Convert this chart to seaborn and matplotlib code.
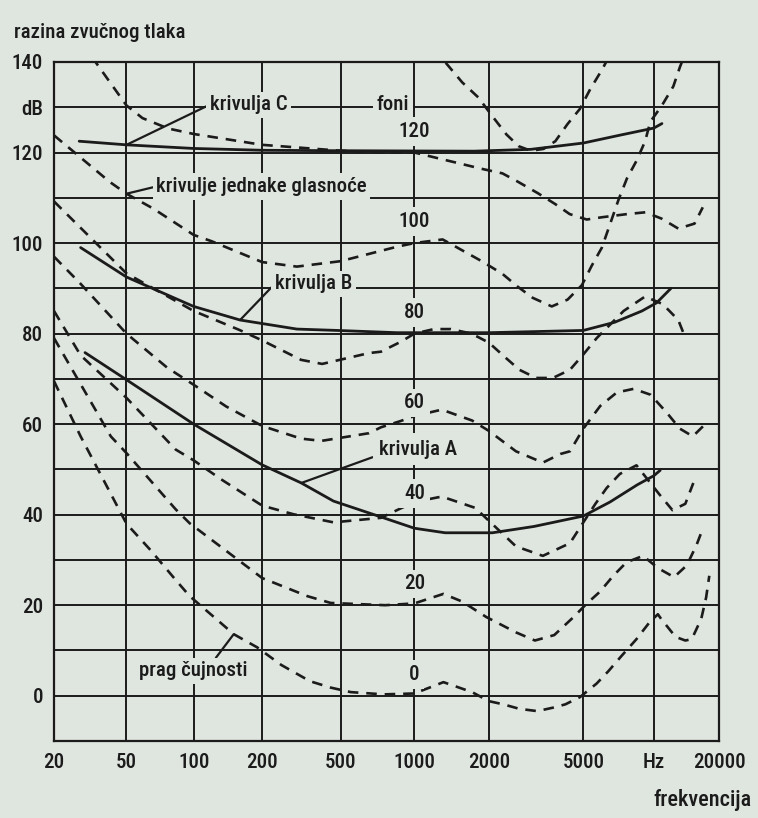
import numpy as np
import pandas as pd
import matplotlib
matplotlib.use("Agg")
import matplotlib.pyplot as plt
import seaborn as sns

# ---------------- data ----------------
x_ticks = [20, 50, 100, 200, 500, 1000, 2000, 5000, 10000, 20000]
x_labels = ["20", "50", "100", "200", "500", "1000", "2000", "5000", "Hz", "20000"]
y_ticks = [0, 10, 20, 30, 40, 50, 60, 70, 80, 90, 100, 110, 120, 130, 140]
y_labels = ["0", "", "20", "", "40", "", "60", "", "80", "", "100", "", "120", "dB", "140"]

# equal-loudness contours (dashed), frequency [Hz] / level [dB]
p0_f = [20, 28, 50, 64, 83, 96, 126, 150, 190, 250, 350, 445, 550, 750, 1000, 1310, 1710,
        2000, 2300, 2690, 3200, 3750, 4200, 4840, 5700, 6390, 7280, 8430, 9610, 10440,
        10800, 12600, 13980, 14970, 16560, 17440, 18040]
p0_db = [69.5, 57.3, 38, 32.2, 25.6, 22, 16.9, 13.6, 10.7, 6.8, 3.2, 1.8, 0.8, 0.3, 0.5, 3.0, 0.8,
         -1.2, -1.9, -2.9, -3.4, -2.6, -1.9, -0.3, 2.7, 5.4, 8.8, 12.5, 16.3, 18,
         17, 13, 12.2, 12.5, 17, 21.7, 26.5]

p20_f = [20, 41, 50, 83, 96, 200, 339, 445, 760, 1000, 1310, 1560, 1950, 2600, 3125, 3770,
         4530, 5160, 5890, 6710, 7650, 9000, 10440, 12400, 14200, 15750, 16860]
p20_db = [79, 57.3, 53.6, 41.2, 38.1, 26, 22, 20.5, 20, 20.4, 22.5, 20.8, 17.4, 14, 12.2, 13.4,
          17.3, 20.3, 23, 26.5, 29.5, 30.9, 28.2, 26.2, 28.8, 33.3, 37]

p40_f = [20, 28, 50, 83, 100, 134, 200, 288, 460, 730, 880, 1000, 1290, 1760, 2070, 2600,
         3375, 4390, 5000, 5630, 6290, 7160, 8430, 10600, 12190, 13980, 15220]
p40_db = [85, 75.2, 65.8, 54.4, 52, 47.6, 42, 40.1, 38.3, 39.3, 41.4, 42.8, 44, 41.5, 37.9, 33,
          30.9, 33.7, 38.3, 42.4, 45.9, 49, 50.9, 44.5, 41, 42.4, 47]

p60_f = [20, 27.7, 50, 76, 100, 139, 200, 315, 400, 653, 730, 880, 1000, 1290, 1710, 2000,
         2600, 3375, 4000, 4390, 5000, 5900, 6950, 8200, 9680, 11490, 13190, 15140, 17700]
p60_db = [97, 91.2, 80, 72.5, 68.7, 63.9, 59.6, 56.8, 56.3, 58, 59.3, 60.7, 61.8, 63.2, 60.8, 58.5,
          54, 51.5, 53.4, 54, 59, 64, 67, 67.8, 66.5, 62.5, 59, 57.3, 60.5]

p80_f = [20, 50, 100, 159, 200, 315, 403, 653, 730, 880, 1000, 1200, 1400, 1700, 2000, 2360,
         2690, 3160, 3720, 4390, 5000, 5700, 6510, 7430, 9180, 11000, 12970, 14000]
p80_db = [109.2, 93.3, 85, 80.8, 78.5, 74.2, 73.3, 75.7, 76, 78.2, 80, 81, 81, 80, 78, 74.6,
          72, 70.2, 70.2, 72, 75.4, 79, 82, 85, 88.2, 86.5, 83, 79]

p100_f = [20, 40.5, 50, 66, 100, 120, 200, 300, 500, 850, 1000, 1300, 1870, 2280, 2640, 3060,
          3680, 4290, 4930, 5430, 6000, 7070, 7680, 8440, 9180, 9660, 10900, 12300, 13200, 14000]
p100_db = [123.8, 113.5, 110.9, 107.6, 101.8, 100.4, 95.8, 94.8, 96, 99.2, 100, 100.8, 96, 93.2,
           90.4, 87.9, 86, 87.5, 90.7, 95, 99, 109.6, 114.3, 118.2, 122.5, 126.8, 130.4, 134.6,
           138.9, 142]

p120_f = [32, 33.8, 50, 59, 67, 77, 100, 200, 500, 750, 1000, 1870, 2280, 2640, 3220, 3810,
          4380, 5170, 6000, 7680, 9210, 10860, 12970, 15420, 16830]
p120_db = [141, 140, 130.4, 127.6, 126.5, 125.3, 124.1, 121.7, 120.4, 120, 120, 116.4, 115.4,
           113.6, 111, 108.6, 106.4, 105.2, 105.7, 106.4, 106.8, 105.4, 103.2, 104.3, 107.9]

p140_f = [1200, 1330, 1560, 1810, 2070, 2370, 2670, 3000, 3400, 3810, 4290, 4830, 5350, 6040, 6400]
p140_db = [143, 140, 135.5, 132.2, 128, 124, 121.4, 120.4, 120.8, 122.5, 126.3, 129.6, 134, 138.5, 141]

# weighting curves (solid)
a_f = [29.6, 50, 100, 200, 316, 460, 758, 1000, 1330, 2070, 3100, 5000, 6500, 8500, 10000, 10700]
a_db = [75.8, 69.8, 60, 51, 47, 43, 39.2, 37, 36, 36, 37.4, 39.7, 42.8, 46.6, 48.6, 49.8]

b_f = [28, 50, 100, 160, 300, 480, 850, 2000, 5000, 6800, 8900, 10300, 12000]
b_db = [99, 92.5, 86, 83, 81, 80.7, 80.2, 80.2, 80.7, 82.5, 85, 86.8, 90]

c_f = [27.5, 50, 100, 200, 500, 1740, 3000, 5000, 7260, 10000, 10900]
c_db = [122.5, 121.7, 120.9, 120.5, 120.4, 120.3, 120.7, 122.1, 123.9, 125.4, 126.4]

phon_levels = [0, 20, 40, 60, 80, 100, 120]

# ---------------- layout / style ----------------
# position of each frequency grid line across the axes (as printed in the chart)
grid_pos = np.array([0.0, 0.109, 0.210, 0.313, 0.431, 0.542, 0.654, 0.796, 0.902, 1.0])
log_t = np.log10(np.array(x_ticks, dtype=float))


def fwd(f):
    lf = np.log10(np.clip(np.asarray(f, dtype=float), 1e-9, None))
    out = np.interp(lf, log_t, grid_pos)
    s0 = (grid_pos[1] - grid_pos[0]) / (log_t[1] - log_t[0])
    s1 = (grid_pos[-1] - grid_pos[-2]) / (log_t[-1] - log_t[-2])
    out = np.where(lf < log_t[0], grid_pos[0] + (lf - log_t[0]) * s0, out)
    out = np.where(lf > log_t[-1], grid_pos[-1] + (lf - log_t[-1]) * s1, out)
    return out


def inv(u):
    u = np.asarray(u, dtype=float)
    out = np.interp(u, grid_pos, log_t)
    s0 = (log_t[1] - log_t[0]) / (grid_pos[1] - grid_pos[0])
    s1 = (log_t[-1] - log_t[-2]) / (grid_pos[-1] - grid_pos[-2])
    out = np.where(u < grid_pos[0], log_t[0] + (u - grid_pos[0]) * s0, out)
    out = np.where(u > grid_pos[-1], log_t[-1] + (u - grid_pos[-1]) * s1, out)
    return 10 ** out


sns.set_style("white")
plt.rcParams["font.family"] = ["Roboto Condensed", "Liberation Sans Narrow",
                               "DejaVu Sans Condensed", "DejaVu Sans"]
plt.rcParams["font.stretch"] = "condensed"
plt.rcParams["font.weight"] = "medium"
paper = "#dfe5df"
ink = "#1b1b1b"

fig = plt.figure(figsize=(7.58, 8.18), dpi=100, facecolor=paper)
ax = fig.add_axes([54 / 758, 1 - 741 / 818, (719 - 54) / 758, (741 - 62) / 818])
ax.set_facecolor(paper)
ax.set_xscale("function", functions=(fwd, inv))

dashed = [(p0_f, p0_db), (p20_f, p20_db), (p40_f, p40_db), (p60_f, p60_db),
          (p80_f, p80_db), (p100_f, p100_db), (p120_f, p120_db), (p140_f, p140_db)]
for f, db in dashed:
    df = pd.DataFrame({"f": f, "db": db})
    sns.lineplot(data=df, x="f", y="db", ax=ax, color=ink, lw=1.9, estimator=None,
                 sort=False, linestyle=(0, (4, 3)), zorder=3)

for f, db in [(a_f, a_db), (b_f, b_db), (c_f, c_db)]:
    df = pd.DataFrame({"f": f, "db": db})
    sns.lineplot(data=df, x="f", y="db", ax=ax, color=ink, lw=2.0, estimator=None,
                 sort=False, zorder=4)

ax.set_xlim(20, 20000)
ax.set_ylim(-10, 140)
ax.set_xticks(x_ticks)
ax.set_xticklabels(x_labels)
ax.minorticks_off()
ax.set_yticks(y_ticks)
ax.set_yticklabels(y_labels)
ax.tick_params(axis="both", length=0, labelsize=15, colors=ink)
ax.tick_params(axis="x", pad=9)
ax.tick_params(axis="y", pad=8)
ax.grid(True, color=ink, lw=1.4, zorder=1)
ax.set_axisbelow(True)
for s in ax.spines.values():
    s.set_color(ink)
    s.set_linewidth(1.6)
ax.set_xlabel("")
ax.set_ylabel("")

box = dict(facecolor=paper, edgecolor="none", pad=2.5)
lead = dict(arrowstyle="-", lw=1.6, color=ink, shrinkA=0, shrinkB=0)
fs = 15

# phon labels at 1000 Hz
for p in phon_levels:
    ax.text(1000, p + 4.7, str(p), ha="center", va="center", fontsize=fs, color=ink,
            bbox=dict(facecolor=paper, edgecolor="none", pad=3.5), zorder=6)

# curve names with leader lines (pointing to points of the data arrays)
ax.annotate("krivulja C", xy=(c_f[1], c_db[1]), xytext=(118, 130.6), ha="left", va="center",
            fontsize=fs, color=ink, bbox=box, zorder=6,
            arrowprops=dict(lead, relpos=(0, 0.5)))
ax.text(820, 130.6, "foni", ha="center", va="center", fontsize=fs, color=ink, bbox=box, zorder=6)
ax.annotate("krivulje jednake glasnoće", xy=(p100_f[2], p100_db[2]), xytext=(68, 112.5),
            ha="left", va="center", fontsize=fs, color=ink, bbox=box, zorder=6,
            arrowprops=dict(lead, relpos=(0, 0.5)))
ax.annotate("krivulja B", xy=(b_f[3], b_db[3]), xytext=(232, 91), ha="left", va="center",
            fontsize=fs, color=ink, bbox=box, zorder=6,
            arrowprops=dict(lead, relpos=(0, 0.5)))
ax.annotate("krivulja A", xy=(a_f[4], a_db[4]), xytext=(720, 54.5), ha="left", va="center",
            fontsize=fs, color=ink, bbox=dict(facecolor=paper, edgecolor="none", pad=5),
            zorder=6, arrowprops=dict(lead, relpos=(0, 0.2)))
ax.annotate("prag čujnosti", xy=(p0_f[7], p0_db[7]), xytext=(100, 5.5), ha="center", va="center",
            fontsize=fs, color=ink, bbox=box, zorder=6,
            arrowprops=dict(lead, relpos=(0.68, 1.0)))

fig.text(14 / 758, 1 - 33 / 818, "razina zvučnog tlaka", ha="left", va="center",
         fontsize=fs, color=ink)
fig.text(752 / 758, 1 - 800 / 818, "frekvencija", ha="right", va="center",
         fontsize=fs + 1, color=ink)

fig.savefig("out.png", dpi=100, facecolor=paper)
